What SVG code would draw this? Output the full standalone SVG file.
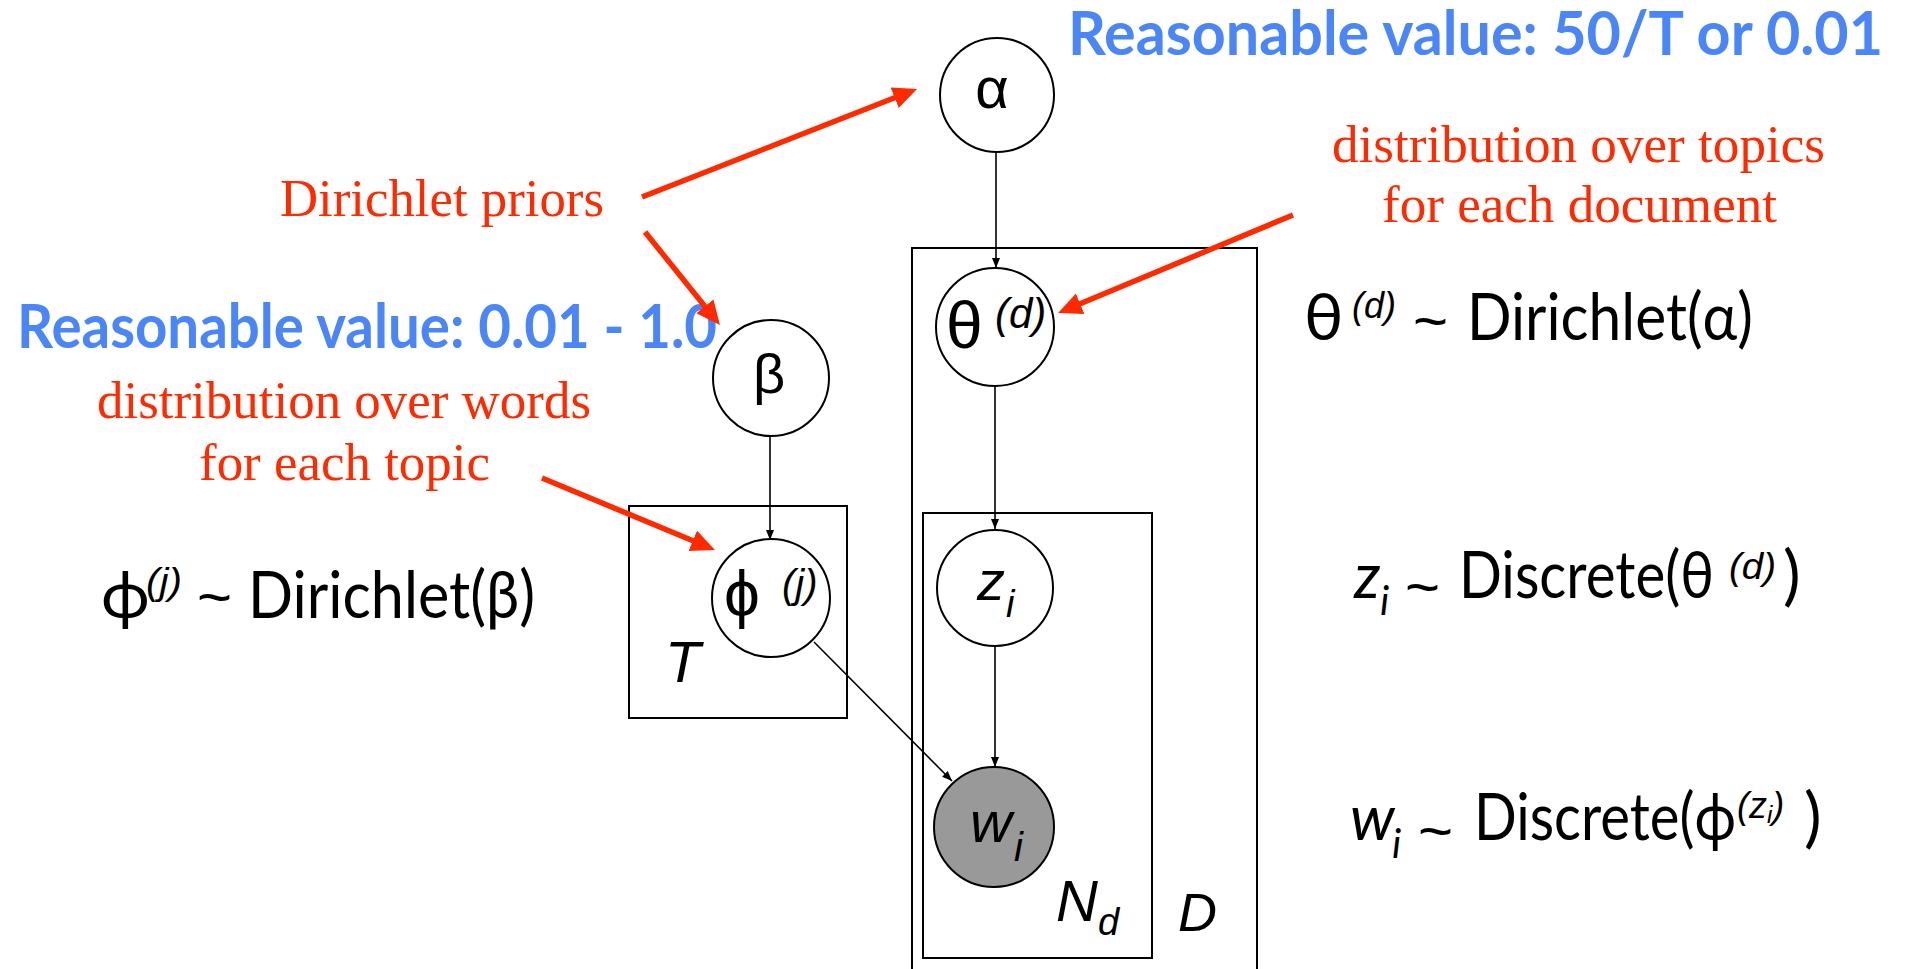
<svg xmlns="http://www.w3.org/2000/svg" width="1908" height="969" viewBox="0 0 1908 969">
<style>
.bg{fill:#fff}
.plate{fill:none;stroke:#000;stroke-width:2}
.node{fill:#fff;stroke:#000;stroke-width:2}
.obs{fill:#999;stroke:#000;stroke-width:2}
.edge{stroke:#000;stroke-width:1.6;fill:none}
.red{stroke:#ff2a00;stroke-width:5.5;fill:none}
.blue{font-family:Lato,"Open Sans","Liberation Sans",sans-serif;font-weight:bold;font-size:62px;fill:#4a86f7}
.note{font-family:"Liberation Serif","Times New Roman",serif;font-size:53px;fill:#ff2a00}
.lbl{font-family:"Liberation Sans",Arial,sans-serif;fill:#000}
.it{font-style:italic}
.eq{font-family:Lato,"Open Sans","Liberation Sans",sans-serif;fill:#000}
.sup{font-family:"Liberation Sans",Arial,sans-serif;font-size:36px;font-style:italic;fill:#000}
.tl{font-family:"Liberation Sans",Arial,sans-serif;font-size:60px;fill:#000}
</style>
<defs>
<marker id="ah" markerUnits="userSpaceOnUse" markerWidth="12" markerHeight="10" refX="10" refY="4" orient="auto">
<path d="M0,0 L10,4 L0,8 z" fill="#000"/>
</marker>
<marker id="rh" markerUnits="userSpaceOnUse" markerWidth="26" markerHeight="24" refX="4" refY="11" orient="auto">
<path d="M0,0 L24,11 L0,22 z" fill="#ff2a00"/>
</marker>
</defs>
<rect class="bg" x="0" y="0" width="1908" height="969"/>

<g id="plates">
<rect id="plate-T" class="plate" x="629" y="506" width="218" height="212"/>
<rect id="plate-D" class="plate" x="912" y="248" width="345" height="760"/>
<rect id="plate-Nd" class="plate" x="923" y="513" width="229" height="445"/>
<text class="lbl it" x="665" y="682" font-size="58">T</text>
<text class="lbl it" x="1056" y="921" font-size="58">N<tspan font-size="38" dy="14">d</tspan></text>
<text class="lbl it" x="1178" y="931" font-size="54">D</text>
</g>

<g id="connectors">
<line class="edge" x1="996" y1="152" x2="996" y2="268" marker-end="url(#ah)"/>
<line class="edge" x1="995" y1="386" x2="995" y2="529" marker-end="url(#ah)"/>
<line class="edge" x1="995" y1="646" x2="995" y2="767" marker-end="url(#ah)"/>
<line class="edge" x1="770" y1="436" x2="770" y2="540" marker-end="url(#ah)"/>
<line class="edge" x1="814" y1="642" x2="952" y2="781" marker-end="url(#ah)"/>
</g>

<g id="node-alpha">
<circle class="node" cx="997" cy="95" r="57"/>
<text class="lbl" x="992" y="108" font-size="58" text-anchor="middle">α</text>
</g>
<g id="node-theta">
<circle class="node" cx="995" cy="327" r="59"/>
<text class="lbl" x="946" y="348" font-size="66">θ</text>
<text class="lbl it" x="995" y="328" font-size="42">(d)</text>
</g>
<g id="node-beta">
<circle class="node" cx="771" cy="378" r="58"/>
<text class="lbl" x="769" y="393" font-size="56" text-anchor="middle">β</text>
</g>
<g id="node-phi">
<circle class="node" cx="771" cy="598" r="59"/>
<text class="lbl" x="724" y="616" font-size="64">ϕ</text>
<text class="lbl it" x="782" y="598" font-size="40">(j)</text>
</g>
<g id="node-z">
<circle class="node" cx="995" cy="588" r="58"/>
<text class="lbl it" x="977" y="600" font-size="56">z<tspan x="1006" y="617" font-size="38">i</tspan></text>
</g>
<g id="node-w">
<circle class="obs" cx="994" cy="827" r="60"/>
<text class="lbl it" x="970" y="842" font-size="58">w<tspan x="1014" y="861" font-size="40">i</tspan></text>
</g>

<g id="annotations">
<text class="blue" x="1068" y="55" textLength="815" lengthAdjust="spacingAndGlyphs">Reasonable value: 50/T or 0.01</text>
<text class="blue" x="17" y="348" textLength="700" lengthAdjust="spacingAndGlyphs">Reasonable value: 0.01 - 1.0</text>
<text class="note" x="280" y="216" textLength="324" lengthAdjust="spacingAndGlyphs">Dirichlet priors</text>
<text class="note" x="97" y="418" textLength="494" lengthAdjust="spacingAndGlyphs">distribution over words</text>
<text class="note" x="199" y="480" textLength="291" lengthAdjust="spacingAndGlyphs">for each topic</text>
<text class="note" x="1332" y="162" textLength="493" lengthAdjust="spacingAndGlyphs">distribution over topics</text>
<text class="note" x="1382" y="222" textLength="395" lengthAdjust="spacingAndGlyphs">for each document</text>
</g>

<g id="red-arrows">
<line class="red" x1="642" y1="197" x2="898.4" y2="96.3" marker-end="url(#rh)"/>
<line class="red" x1="645" y1="232" x2="707.4" y2="309.4" marker-end="url(#rh)"/>
<line class="red" x1="542" y1="478" x2="696.5" y2="542.3" marker-end="url(#rh)"/>
<line class="red" x1="1293" y1="215" x2="1076.5" y2="305.3" marker-end="url(#rh)"/>
</g>

<g id="equations">
<text class="eq" font-size="66" x="1304" y="340">θ</text>
<text class="sup" x="1352" y="318" textLength="44" lengthAdjust="spacingAndGlyphs">(d)</text>
<text class="tl" x="1413" y="341">~</text>
<text class="eq" font-size="66" x="1467" y="340" textLength="286" lengthAdjust="spacingAndGlyphs">Dirichlet(α)</text>

<text class="eq it" font-size="62" x="1354" y="598">z</text>
<text class="eq it" font-size="40" x="1380" y="615">i</text>
<text class="tl" x="1405" y="607">~</text>
<text class="eq" font-size="66" x="1459" y="598" textLength="255" lengthAdjust="spacingAndGlyphs">Discrete(θ</text>
<text class="sup" x="1729" y="579" textLength="47" lengthAdjust="spacingAndGlyphs">(d)</text>
<text class="eq" font-size="66" x="1783" y="598">)</text>

<text class="eq it" font-size="62" x="1350" y="840">w</text>
<text class="eq it" font-size="40" x="1392" y="858">i</text>
<text class="tl" x="1418" y="851">~</text>
<text class="eq" font-size="66" x="1474" y="840" textLength="262" lengthAdjust="spacingAndGlyphs">Discrete(ϕ</text>
<text class="sup" x="1737" y="818" font-style="normal">(<tspan font-style="italic">z</tspan><tspan font-style="italic" font-size="24" dy="5">i</tspan><tspan dy="-5">)</tspan></text>
<text class="eq" font-size="66" x="1804" y="840">)</text>

<text class="eq" font-size="66" x="101" y="618">ϕ</text>
<text class="sup" x="146" y="594" textLength="36" lengthAdjust="spacingAndGlyphs">(j)</text>
<text class="tl" x="197" y="617">~</text>
<text class="eq" font-size="66" x="248" y="618" textLength="287" lengthAdjust="spacingAndGlyphs">Dirichlet(β)</text>
</g>
</svg>
